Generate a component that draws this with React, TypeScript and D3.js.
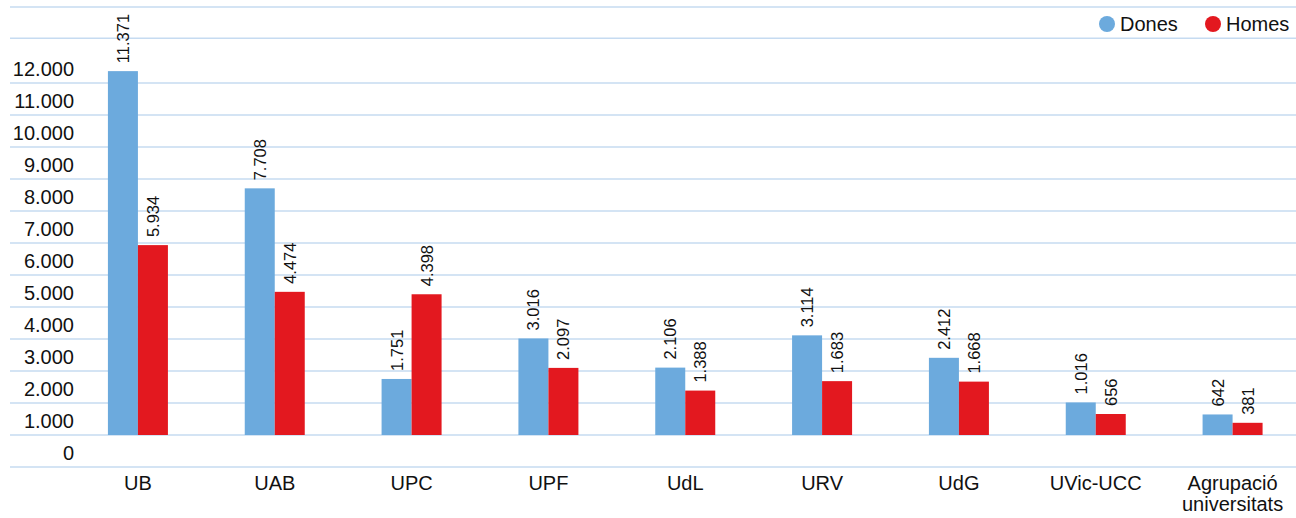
import React from 'react'
import * as d3 from 'd3'

const categories = ['UB', 'UAB', 'UPC', 'UPF', 'UdL', 'URV', 'UdG', 'UVic-UCC', 'Agrupació\nuniversitats']
const dones = [11371, 7708, 1751, 3016, 2106, 3114, 2412, 1016, 642]
const homes = [5934, 4474, 4398, 2097, 1388, 1683, 1668, 656, 381]
const seriesNames = ['Dones', 'Homes']
const tickLabels = ['0', '1.000', '2.000', '3.000', '4.000', '5.000', '6.000', '7.000', '8.000', '9.000', '10.000', '11.000', '12.000']
// gridlines in data units (the source draws two extra lines near the top)
const gridValues = [-1000, 0, 1000, 2000, 3000, 4000, 5000, 6000, 7000, 8000, 9000, 10000, 11000, 12400, 13375]

const W = 1296
const H = 518
const BLUE = '#6caadd'
const RED = '#e3181f'
const GRID = '#c6dbf1'
const FONT = '"Liberation Sans", Arial, Helvetica, sans-serif'

export default function App() {
  const y = d3.scaleLinear().domain([0, 11371]).range([435, 435 - 11.371 * 32])
  const x = d3.scaleBand().domain(categories).range([69.5, 1301]).paddingInner(0).paddingOuter(0)
  const inner = d3.scaleBand().domain(seriesNames).range([0, 60])
  const step = x.bandwidth()
  const cx = (c: string) => (x(c) as number) + step / 2

  const fmt = (v: number) => d3.format(',')(v).replace(/,/g, '.')

  return (
    <svg width={W} height={H} style={{ position: 'absolute', left: 0, top: 0, background: '#fff' }} fontFamily={FONT}>
      {gridValues.map(v => (
        <line key={v} x1={10} x2={W} y1={y(v)} y2={y(v)} stroke={GRID} strokeWidth={1.6} />
      ))}
      {tickLabels.map((t, i) => (
        <text key={t} x={74} y={y(i * 1000) + 18} textAnchor="end" dominantBaseline="central" fontSize={20} fill="#111">
          {t}
        </text>
      ))}
      {categories.map((c, i) => {
        const left = cx(c) - 30
        const vals = [dones[i], homes[i]]
        return (
          <g key={c}>
            {vals.map((v, j) => {
              const bx = left + (inner(seriesNames[j]) as number)
              const bw = inner.bandwidth()
              return (
                <g key={j}>
                  <rect x={bx} y={y(v)} width={bw} height={y(0) - y(v)} fill={j === 0 ? BLUE : RED} />
                  <text
                    transform={`translate(${bx + bw / 2},${y(v) - 8}) rotate(-90)`}
                    dominantBaseline="central"
                    fontSize={16.5}
                    fill="#111"
                  >
                    {fmt(v)}
                  </text>
                </g>
              )
            })}
            {c.split('\n').map((line, k) => (
              <text key={k} x={cx(c)} y={490 + k * 21} textAnchor="middle" fontSize={20} fill="#111">
                {line}
              </text>
            ))}
          </g>
        )
      })}
      <g>
        <circle cx={1107} cy={24} r={8} fill={BLUE} />
        <text x={1120} y={24} dominantBaseline="central" fontSize={20} fill="#111">{seriesNames[0]}</text>
        <circle cx={1213} cy={24} r={8} fill={RED} />
        <text x={1226} y={24} dominantBaseline="central" fontSize={20} fill="#111">{seriesNames[1]}</text>
      </g>
    </svg>
  )
}
